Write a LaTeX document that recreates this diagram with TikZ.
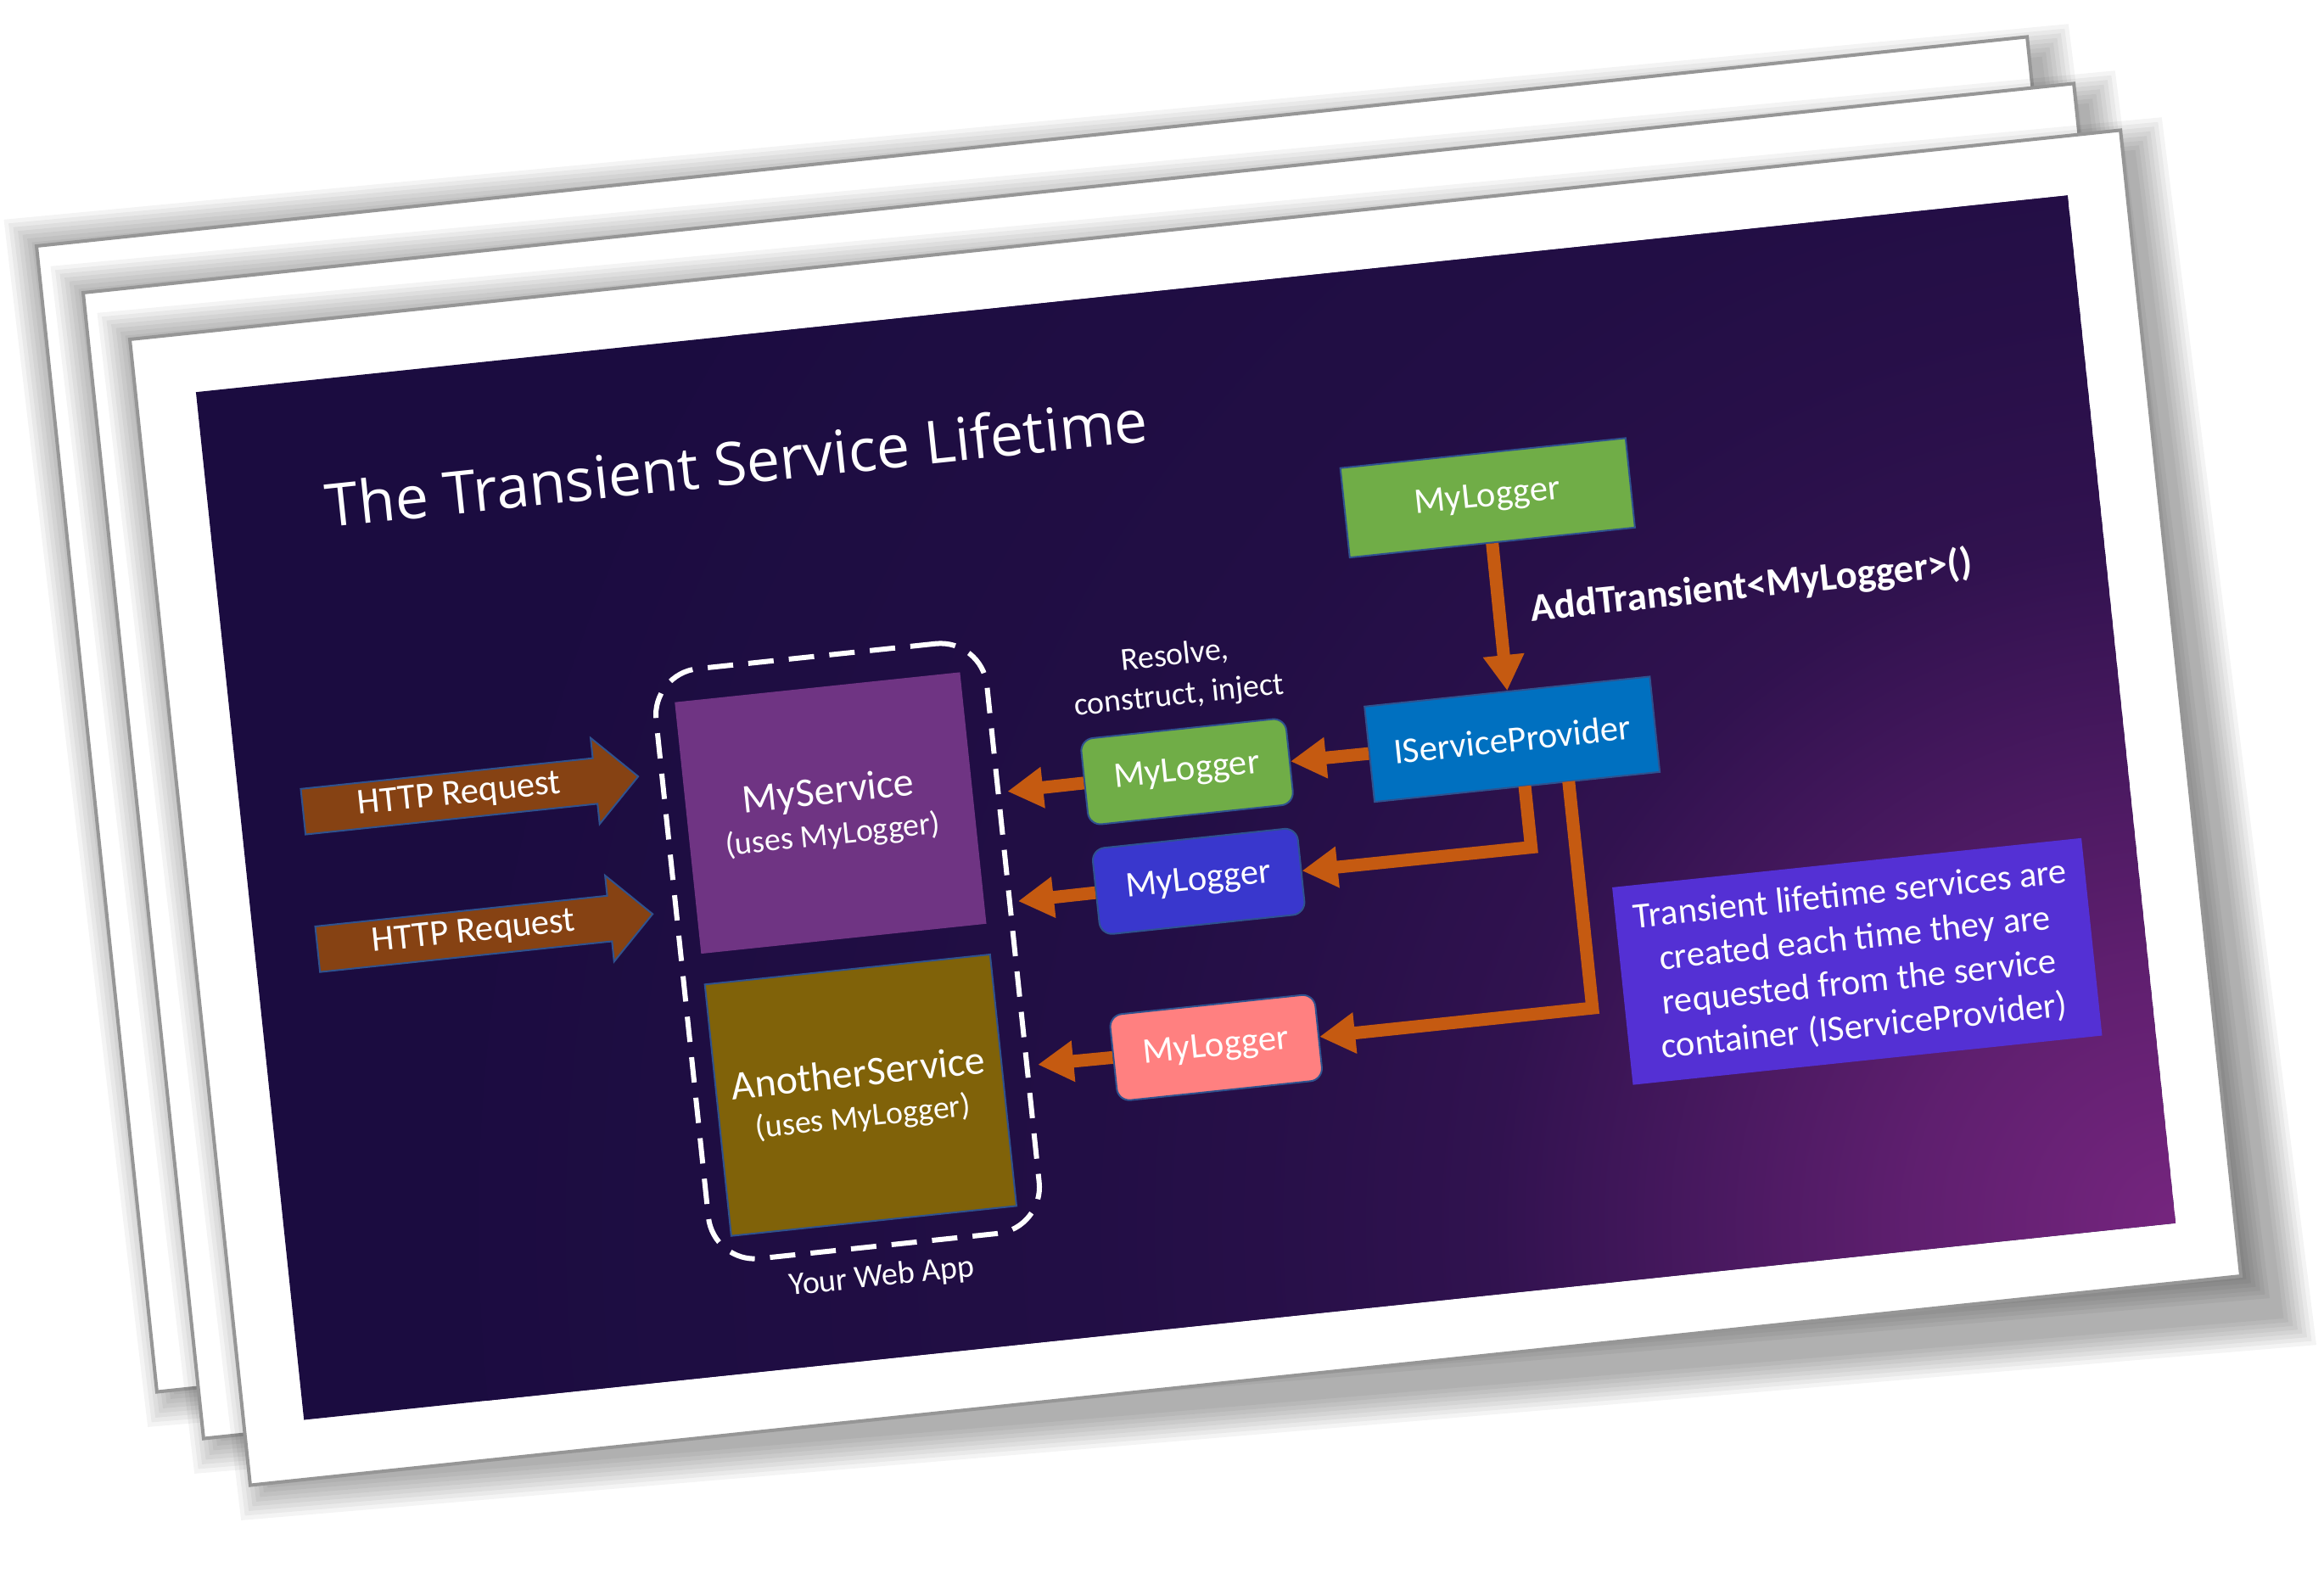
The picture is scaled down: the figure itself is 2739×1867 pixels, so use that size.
\documentclass[tikz,border=0pt]{standalone}
\usepackage{fontspec}
\setmainfont{Carlito}
\newfontfamily\titlefont{Open Sans}
\usetikzlibrary{arrows.meta,shapes.arrows}

\definecolor{slidedark}{RGB}{27,12,64}
\definecolor{slidepurple}{RGB}{117,37,126}
\definecolor{edgeblue}{RGB}{47,82,143}
\definecolor{flowor}{RGB}{197,90,17}
\definecolor{reqbrown}{RGB}{134,66,19}
\definecolor{svcpurple}{RGB}{111,52,131}
\definecolor{svcolive}{RGB}{128,98,9}
\definecolor{lggreen}{RGB}{112,173,71}
\definecolor{lgblue}{RGB}{57,55,205}
\definecolor{lgpink}{RGB}{255,128,128}
\definecolor{spblue}{RGB}{0,112,192}
\definecolor{noteviolet}{RGB}{84,48,212}
\definecolor{cardedge}{RGB}{150,150,150}

\pgfdeclareradialshading{slideglow}{\pgfpoint{0bp}{0bp}}{%
  color(0bp)=(slidepurple);
  color(3.75bp)=(slidepurple!75!slidedark);
  color(9.6bp)=(slidepurple!24!slidedark);
  color(12.5bp)=(slidepurple!14!slidedark);
  color(15.2bp)=(slidepurple!8!slidedark);
  color(25bp)=(slidedark);
  color(50bp)=(slidedark)}

\begin{document}
\begin{tikzpicture}[x=1pt, y=1pt,
  every node/.style={text=white, font=\fontsize{42.6}{51}\selectfont},
  logger/.style={rectangle, rounded corners=15pt, draw=edgeblue, line width=2pt,
    minimum width=243pt, minimum height=102pt},
  plain/.style={rectangle, draw=edgeblue, line width=2pt},
  svc/.style={rectangle, minimum width=338pt, minimum height=298pt, align=center},
  req/.style={single arrow, fill=reqbrown, draw=edgeblue, line width=2pt,
    single arrow head extend=24pt, single arrow head indent=0pt,
    minimum height=397pt, text height=30pt, text depth=10pt, inner ysep=6pt,
    anchor=tail},
  flow/.style={draw=flowor, line width=15pt, line join=miter,
    -{Triangle[length=42pt, width=46pt]}},
  small/.style={font=\fontsize{38}{47.5}\selectfont, align=center}]

  \useasboundingbox (0,0) rectangle (2739,-1867);
  \fill[white] (0,0) rectangle (2739,-1867);

  \foreach \o in {110,55,0} {
    \begin{scope}[shift={(153-\o,-400+\o)}, rotate=6]
      \foreach \r in {0,5,...,35}
        \fill[black, opacity=0.045]
          (-\r,\r) -- (2374+\r,-25+\r) -- (2404+\r,-1413-\r) -- (20-\r,-1363-\r) -- cycle;
      \fill[white, draw=cardedge, line width=4pt] (0,0) rectangle (2359,-1358);
    \end{scope}
  }

  \begin{scope}[shift={(153,-400)}, rotate=6, transform shape]
    \begin{scope}
      \clip (71,-70) rectangle (2289,-1288);
      \fill[slidedark] (71,-70) rectangle (2289,-1288);
      \shade[shading=slideglow] (2289,-1288) circle (2000);
    \end{scope}

    \node[font=\titlefont\fontsize{70}{84}\selectfont, anchor=base west] (title)
      at (206,-245) {The Transient Service Lifetime};

    \node[req] (req1) at (144,-575) {HTTP Request};
    \node[req] (req2) at (144,-738) {HTTP Request};

    \node[draw=white, line width=6pt, dash pattern=on 30pt off 18pt,
      rounded corners=55pt, minimum width=392pt, minimum height=699pt]
      (webapp) at (766,-805.5) {};
    \node[svc, fill=svcpurple] (mysvc) at (763,-641.5)
      {{\fontsize{48}{58}\selectfont MyService}\\[-3pt]
       {\fontsize{38}{46}\selectfont (uses MyLogger)}};
    \node[svc, fill=svcolive, draw=edgeblue, line width=2pt] (anothersvc) at (763.5,-976)
      {{\fontsize{48}{58}\selectfont AnotherService}\\[-3pt]
       {\fontsize{38}{46}\selectfont (uses MyLogger)}};
    \node[small] (webapptext) at (766,-1192) {Your Web App};

    \node[small] (resolve) at (1186,-524) {Resolve,\\construct, inject};
    \node[logger, fill=lggreen] (lg1) at (1186,-637) {MyLogger};
    \node[logger, fill=lgblue] (lg2) at (1186,-767) {MyLogger};
    \node[logger, fill=lgpink] (lg3) at (1186,-964) {MyLogger};

    \node[plain, fill=lggreen, minimum width=338pt, minimum height=106pt]
      (lgtop) at (1572,-353) {MyLogger};
    \node[plain, fill=spblue, minimum width=338pt, minimum height=113pt]
      (sp) at (1571,-639) {IServiceProvider};
    \node[font=\bfseries\fontsize{46.6}{56}\selectfont, anchor=base west]
      (addt) at (1605,-503) {AddTransient<MyLogger>()};

    \node[fill=noteviolet, minimum width=556pt, minimum height=234pt, align=center,
      font=\fontsize{42.6}{52}\selectfont] (note) at (1948,-942)
      {Transient lifetime services are\\created each time they are\\
       requested from the service\\container (IServiceProvider)};

    \coordinate (in1) at (973,-638);
    \coordinate (in2) at (972,-768);
    \coordinate (in3) at (975,-962);
    \coordinate (br1) at (1580,-695.5);
    \coordinate (el1) at (1580,-768);
    \coordinate (br2) at (1632,-695.5);
    \coordinate (el2) at (1632,-964);

    \draw[flow] (lgtop) -- (sp);
    \draw[flow] (sp) -- (lg1);
    \draw[flow] (lg1) -- (in1);
    \draw[flow] (br1) -- (el1) -- (lg2);
    \draw[flow] (lg2) -- (in2);
    \draw[flow] (br2) -- (el2) -- (lg3);
    \draw[flow] (lg3) -- (in3);
  \end{scope}
\end{tikzpicture}
\end{document}
